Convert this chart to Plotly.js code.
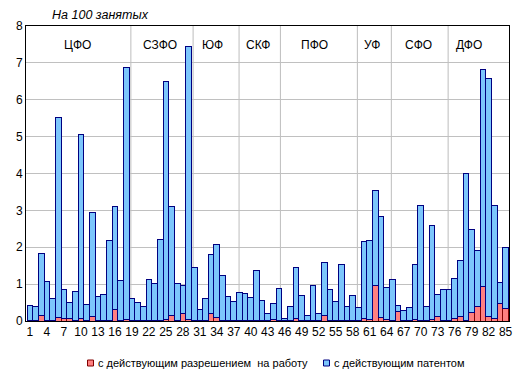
<!DOCTYPE html>
<html><head><meta charset="utf-8">
<script src="https://cdn.plot.ly/plotly-3.0.1.min.js"></script>
<style>body{margin:0;background:#fff}#c{width:521px;height:377px}</style>
</head><body><div id="c"></div>
<script>
const regions = Array.from({length: 85}, (_, i) => i + 1);
const totals = [0.43,0.38,1.82,1.06,0.60,5.52,0.86,0.50,0.81,5.05,0.46,2.95,0.67,0.72,2.19,3.11,1.10,6.87,
  0.60,0.51,0.38,1.13,1.03,2.22,6.50,3.11,1.02,0.97,7.44,
  1.45,0.32,0.62,1.81,2.08,1.24,0.67,0.53,
  0.78,0.75,0.64,1.38,0.56,0.21,0.48,
  0.87,0.08,0.40,1.45,0.70,0.14,0.97,0.21,1.59,0.86,0.53,1.54,0.40,0.70,
  0.37,2.16,2.19,3.54,2.84,0.91,
  1.13,0.43,0.28,0.37,1.54,3.13,0.40,2.59,0.72,0.86,
  0.86,1.16,1.63,4.00,2.48,1.92,6.82,6.58,3.14,1.05,2.00];
const permits = [0.01,0.01,0.16,0.02,0.01,0.10,0.07,0.07,0.02,0.07,0.02,0.13,0.01,0.02,0.02,0.30,0.02,0.05,
  0.01,0.01,0.01,0.01,0.01,0.02,0.04,0.16,0.02,0.21,0.05,
  0.02,0.01,0.01,0.21,0.10,0.02,0.01,0.01,
  0.01,0.01,0.01,0.01,0.01,0.01,0.04,
  0.02,0.01,0.01,0.07,0.01,0.01,0.02,0.01,0.15,0.02,0.01,0.02,0.01,0.01,
  0.01,0.07,0.03,0.97,0.10,0.05,
  0.02,0.27,0.01,0.01,0.04,0.02,0.01,0.04,0.13,0.01,
  0.01,0.06,0.13,0.02,0.24,0.39,0.94,0.11,0.06,0.48,0.35];
const patents = totals.map((t, i) => +(t - permits[i]).toFixed(2));
const xTicks = regions.filter(r => (r - 1) % 3 === 0);
const districts = ["ЦФО","СЗФО","ЮФ","СКФ","ПФО","УФ","СФО","ДФО"];
const districtCenters = [9.46, 23.93, 33.2, 41.2, 51.2, 61.43, 69.55, 78.46];
const districtBounds = [18.82, 29.81, 37.93, 45.23, 58.82, 64.82, 74.85];
const seriesNames = ["с действующим разрешением&nbsp; на работу", "с действующим патентом"];

const FONT = "Liberation Sans, Arial, sans-serif";
const RED = '#FF8080', RED_LINE = '#800000', BLUE = '#7CC6FC', BLUE_LINE = '#000080';
const M = {l:26, r:12, t:26, b:56};
const PW = 521 - M.l - M.r, PH = 377 - M.t - M.b;
const px = x => (x - M.l) / PW;
const py = y => (377 - M.b - y) / PH;

const traces = [
  {type:'bar', x: regions, y: permits, name: seriesNames[0],
   marker:{color:RED, line:{color:RED_LINE, width:1}}},
  {type:'bar', x: regions, y: patents, name: seriesNames[1],
   marker:{color:BLUE, line:{color:BLUE_LINE, width:1}}}
];
const shapes = districtBounds.map(b => ({type:'line', xref:'x', yref:'paper', x0:b, x1:b, y0:0, y1:1,
  line:{color:'#BDBDBD', width:1}, layer:'below'}));
const annotations = districts.map((d, i) => ({xref:'x', yref:'y', x: districtCenters[i], y: 7.48,
  text: d, showarrow:false, font:{family:FONT, size:12, color:'#000'}}));

// custom legend (Excel-like small squares)
const legendItems = [
  {sq:87.5, tx:96, fill:RED, line:RED_LINE, name:seriesNames[0]},
  {sq:323.5, tx:332, fill:BLUE, line:BLUE_LINE, name:seriesNames[1]}
];
legendItems.forEach(it => {
  shapes.push({type:'rect', xref:'paper', yref:'paper', x0:px(it.sq), x1:px(it.sq+6), y0:py(366), y1:py(360),
    fillcolor:it.fill, line:{color:it.line, width:1}});
  annotations.push({xref:'paper', yref:'paper', x:px(it.tx), y:py(363), xanchor:'left', yanchor:'middle',
    text:it.name, showarrow:false, font:{family:FONT, size:11, color:'#000'}});
});

const layout = {
  width:521, height:377,
  margin:Object.assign({autoexpand:false}, M),
  paper_bgcolor:'#fff', plot_bgcolor:'#fff',
  barmode:'stack', bargap:0,
  font:{family:FONT, size:12, color:'#000'},
  title:{text:'<i>На 100 занятых</i>', xref:'container', yref:'container', x:100/521, xanchor:'center',
    y:1-15/377, yanchor:'middle', font:{family:FONT, size:12.5, color:'#000'}},
  xaxis:{range:[0.3, 85.6], tickmode:'array', tickvals:xTicks, ticktext:xTicks.map(String),
    showgrid:false, showline:true, linecolor:'#000', linewidth:1, mirror:true, ticks:'', zeroline:false,
    tickfont:{family:FONT, size:12, color:'#000'}, tickangle:0, automargin:false},
  yaxis:{range:[0, 8], dtick:1, showgrid:true, gridcolor:'#C0C0C0', gridwidth:1,
    showline:true, linecolor:'#000', linewidth:1, mirror:true, ticks:'', zeroline:false,
    tickfont:{family:FONT, size:12, color:'#000'}, automargin:false},
  shapes: shapes, annotations: annotations,
  showlegend:false
};
Plotly.newPlot('c', traces, layout, {staticPlot:true, displayModeBar:false});
</script></body></html>
